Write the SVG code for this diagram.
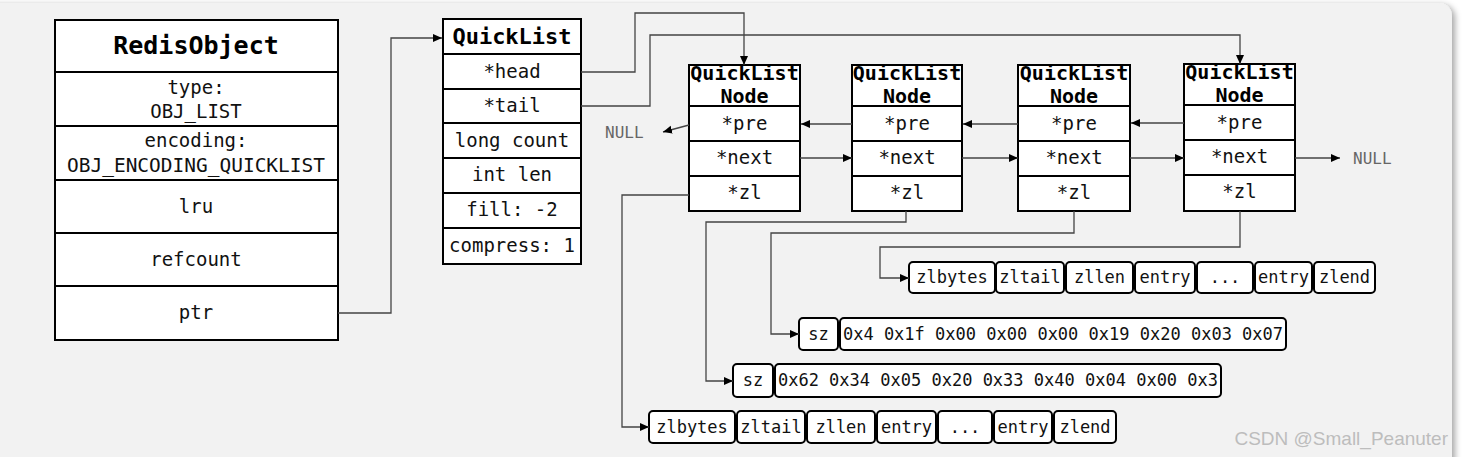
<svg xmlns="http://www.w3.org/2000/svg" width="1464" height="457" viewBox="0 0 1464 457">
<defs>
<filter id="sh" x="-5%" y="-5%" width="110%" height="110%">
<feDropShadow dx="3" dy="2" stdDeviation="3" flood-color="#000" flood-opacity="0.35"/>
</filter>
<marker id="arr" markerUnits="userSpaceOnUse" markerWidth="10" markerHeight="10" refX="9" refY="5" orient="auto">
<path d="M0,1 L9,5 L0,9 z" fill="#000"/>
</marker>
<style>
.box{fill:#fff;stroke:#000;stroke-width:2}
.cell{fill:#fff;stroke:#000;stroke-width:2}
.t{font-family:"DejaVu Sans Mono","Liberation Mono",monospace;font-size:19px;fill:#111;text-anchor:middle}
.tb{font-family:"DejaVu Sans Mono","Liberation Mono",monospace;font-weight:bold;fill:#000;text-anchor:middle}
.s{font-family:"DejaVu Sans Mono","Liberation Mono",monospace;font-size:17px;fill:#111;text-anchor:middle}
.null{font-family:"DejaVu Sans Mono","Liberation Mono",monospace;font-size:16px;fill:#666}
.c{fill:none;stroke:#444;stroke-width:1.3}
.ln{stroke:#000;stroke-width:2}
</style>
</defs>
<rect x="0" y="0" width="1464" height="457" fill="#fff"/>
<rect x="-20" y="3" width="1472" height="480" rx="13" fill="#f2f2f2" filter="url(#sh)"/>

<g id="redisobject">
<rect class="box" x="55" y="20" width="283" height="320"/>
<line class="ln" x1="55" y1="72" x2="338" y2="72"/>
<line class="ln" x1="55" y1="126" x2="338" y2="126"/>
<line class="ln" x1="55" y1="180" x2="338" y2="180"/>
<line class="ln" x1="55" y1="233" x2="338" y2="233"/>
<line class="ln" x1="55" y1="286" x2="338" y2="286"/>
<text class="tb" x="196" y="54" font-size="25">RedisObject</text>
<text class="t" x="196" y="94">type:</text>
<text class="t" x="196" y="118">OBJ_LIST</text>
<text class="t" x="196" y="147">encoding:</text>
<text class="t" x="196" y="172" textLength="258" lengthAdjust="spacingAndGlyphs">OBJ_ENCODING_QUICKLIST</text>
<text class="t" x="196" y="213">lru</text>
<text class="t" x="196" y="266">refcount</text>
<text class="t" x="196" y="319">ptr</text>
</g>

<g id="quicklist">
<rect class="box" x="443" y="19" width="138" height="245"/>
<line class="ln" x1="443" y1="54" x2="581" y2="54"/>
<line class="ln" x1="443" y1="89" x2="581" y2="89"/>
<line class="ln" x1="443" y1="123" x2="581" y2="123"/>
<line class="ln" x1="443" y1="158" x2="581" y2="158"/>
<line class="ln" x1="443" y1="193" x2="581" y2="193"/>
<line class="ln" x1="443" y1="228" x2="581" y2="228"/>
<text class="tb" x="512" y="44" font-size="22">QuickList</text>
<text class="t" x="512" y="78">*head</text>
<text class="t" x="512" y="112">*tail</text>
<text class="t" x="512" y="147">long count</text>
<text class="t" x="512" y="181">int len</text>
<text class="t" x="512" y="216">fill: -2</text>
<text class="t" x="512" y="252">compress: 1</text>
</g>

<g id="node1">
<rect class="box" x="689" y="65" width="111" height="146"/>
<line class="ln" x1="689" y1="106" x2="800" y2="106"/>
<line class="ln" x1="689" y1="141" x2="800" y2="141"/>
<line class="ln" x1="689" y1="176" x2="800" y2="176"/>
<text class="tb" x="744.5" y="80" font-size="20">QuickList</text>
<text class="tb" x="744.5" y="103" font-size="20">Node</text>
<text class="t" x="744.5" y="130">*pre</text>
<text class="t" x="744.5" y="164">*next</text>
<text class="t" x="744.5" y="199">*zl</text>
</g>
<g id="node2">
<rect class="box" x="852" y="65" width="110" height="146"/>
<line class="ln" x1="852" y1="106" x2="962" y2="106"/>
<line class="ln" x1="852" y1="141" x2="962" y2="141"/>
<line class="ln" x1="852" y1="176" x2="962" y2="176"/>
<text class="tb" x="907" y="80" font-size="20">QuickList</text>
<text class="tb" x="907" y="103" font-size="20">Node</text>
<text class="t" x="907" y="130">*pre</text>
<text class="t" x="907" y="164">*next</text>
<text class="t" x="907" y="199">*zl</text>
</g>
<g id="node3">
<rect class="box" x="1018" y="65" width="112" height="146"/>
<line class="ln" x1="1018" y1="106" x2="1130" y2="106"/>
<line class="ln" x1="1018" y1="141" x2="1130" y2="141"/>
<line class="ln" x1="1018" y1="176" x2="1130" y2="176"/>
<text class="tb" x="1074" y="80" font-size="20">QuickList</text>
<text class="tb" x="1074" y="103" font-size="20">Node</text>
<text class="t" x="1074" y="130">*pre</text>
<text class="t" x="1074" y="164">*next</text>
<text class="t" x="1074" y="199">*zl</text>
</g>
<g id="node4">
<rect class="box" x="1184" y="64" width="111" height="147"/>
<line class="ln" x1="1184" y1="105" x2="1295" y2="105"/>
<line class="ln" x1="1184" y1="140" x2="1295" y2="140"/>
<line class="ln" x1="1184" y1="175" x2="1295" y2="175"/>
<text class="tb" x="1239.5" y="79" font-size="20">QuickList</text>
<text class="tb" x="1239.5" y="102" font-size="20">Node</text>
<text class="t" x="1239.5" y="129">*pre</text>
<text class="t" x="1239.5" y="163">*next</text>
<text class="t" x="1239.5" y="198">*zl</text>
</g>

<g id="null-left"><text class="null" x="605" y="138">NULL</text></g>
<g id="null-right"><text class="null" x="1353" y="164">NULL</text></g>

<g id="ziplist-4">
<rect class="cell" x="909" y="262" width="86" height="31" rx="4"/>
<rect class="cell" x="996" y="262" width="68" height="31" rx="4"/>
<rect class="cell" x="1066" y="262" width="67" height="31" rx="4"/>
<rect class="cell" x="1135" y="262" width="60" height="31" rx="4"/>
<rect class="cell" x="1197" y="262" width="56" height="31" rx="4"/>
<rect class="cell" x="1255" y="262" width="57" height="31" rx="4"/>
<rect class="cell" x="1314" y="262" width="61" height="31" rx="4"/>
<text class="s" x="952" y="283">zlbytes</text>
<text class="s" x="1030" y="283">zltail</text>
<text class="s" x="1099.5" y="283">zllen</text>
<text class="s" x="1165" y="283">entry</text>
<text class="s" x="1225" y="283">...</text>
<text class="s" x="1283.5" y="283">entry</text>
<text class="s" x="1344.5" y="283">zlend</text>
</g>

<g id="compressed-3">
<rect class="cell" x="799" y="318" width="39" height="32" rx="4"/>
<rect class="cell" x="840" y="318" width="446" height="32" rx="4"/>
<text class="s" x="818.5" y="340">sz</text>
<text class="s" x="1063" y="340">0x4 0x1f 0x00 0x00 0x00 0x19 0x20 0x03 0x07</text>
</g>

<g id="compressed-2">
<rect class="cell" x="733" y="364" width="40" height="33" rx="4"/>
<rect class="cell" x="775" y="364" width="446" height="33" rx="4"/>
<text class="s" x="753" y="386">sz</text>
<text class="s" x="998" y="386">0x62 0x34 0x05 0x20 0x33 0x40 0x04 0x00 0x3</text>
</g>

<g id="ziplist-1">
<rect class="cell" x="649" y="411" width="86" height="32" rx="4"/>
<rect class="cell" x="737" y="411" width="68" height="32" rx="4"/>
<rect class="cell" x="807" y="411" width="68" height="32" rx="4"/>
<rect class="cell" x="877" y="411" width="59" height="32" rx="4"/>
<rect class="cell" x="938" y="411" width="54" height="32" rx="4"/>
<rect class="cell" x="994" y="411" width="58" height="32" rx="4"/>
<rect class="cell" x="1054" y="411" width="62" height="32" rx="4"/>
<text class="s" x="692" y="433">zlbytes</text>
<text class="s" x="771" y="433">zltail</text>
<text class="s" x="841" y="433">zllen</text>
<text class="s" x="906.5" y="433">entry</text>
<text class="s" x="965" y="433">...</text>
<text class="s" x="1023" y="433">entry</text>
<text class="s" x="1085" y="433">zlend</text>
</g>

<g id="connectors">
<path class="c" d="M338,313 H391 V38 H442" marker-end="url(#arr)"/>
<path class="c" d="M581,72 H635 V13 H744 V65" marker-end="url(#arr)"/>
<path class="c" d="M581,106 H650 V35 H1240 V64" marker-end="url(#arr)"/>
<path class="c" d="M852,124 H801" marker-end="url(#arr)"/>
<path class="c" d="M1018,124 H963" marker-end="url(#arr)"/>
<path class="c" d="M1184,123 H1131" marker-end="url(#arr)"/>
<path class="c" d="M689,125 L663,132" marker-end="url(#arr)"/>
<path class="c" d="M800,158 H852" marker-end="url(#arr)"/>
<path class="c" d="M962,158 H1018" marker-end="url(#arr)"/>
<path class="c" d="M1130,158 H1184" marker-end="url(#arr)"/>
<path class="c" d="M1295,158 H1340" marker-end="url(#arr)"/>
<path class="c" d="M689,195 H622 V427 H649" marker-end="url(#arr)"/>
<path class="c" d="M906,211 V222 H706 V381 H733" marker-end="url(#arr)"/>
<path class="c" d="M1074,211 V233 H771 V334 H799" marker-end="url(#arr)"/>
<path class="c" d="M1240,211 V247 H880 V278 H909" marker-end="url(#arr)"/>
</g>

<text x="1448" y="445" font-family="Liberation Sans, Arial, sans-serif" font-size="19" fill="#bdbdbd" text-anchor="end">CSDN @Small_Peanuter</text>
</svg>
